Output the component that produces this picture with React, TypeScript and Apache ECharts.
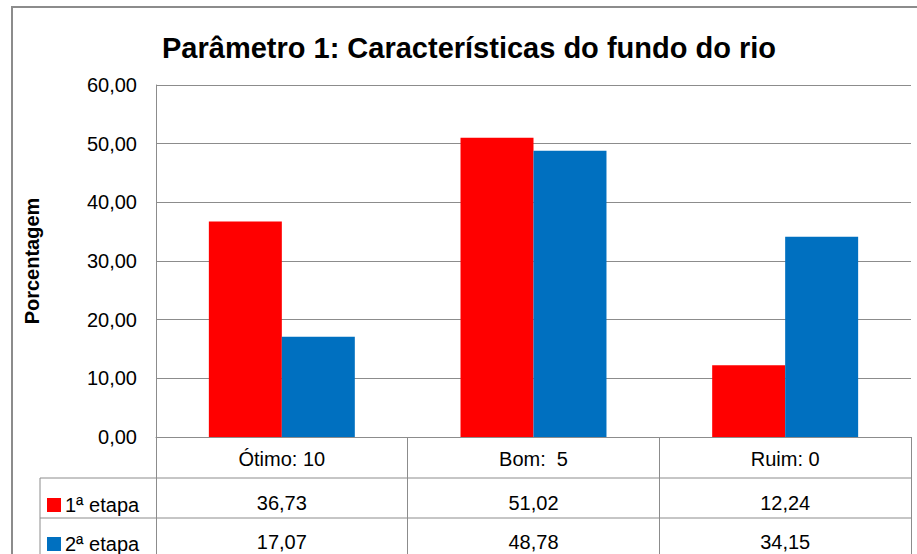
import React, { useEffect, useRef } from "react";
import * as echarts from "echarts";

const TITLE = "Parâmetro 1: Características do fundo do rio";
const Y_NAME = "Porcentagem";
const CATEGORIES = ["Ótimo: 10", "Bom:  5", "Ruim: 0"];
const SERIES_NAMES = ["1ª etapa", "2ª etapa"];
const ETAPA1 = [36.73, 51.02, 12.24];
const ETAPA2 = [17.07, 48.78, 34.15];
const COLORS = ["#FF0000", "#0070C0"];
const Y_MIN = 0;
const Y_MAX = 60;
const Y_INTERVAL = 10;

const fmt = (v: number) => v.toFixed(2).replace(".", ",");

export default function App() {
  const ref = useRef<HTMLDivElement>(null);
  useEffect(() => {
    if (!ref.current) return;
    const chart = echarts.init(ref.current, null, { renderer: "svg" });
    const gray = "#8c8c8c";
    const font = "Liberation Sans, Arial, sans-serif";
    const left = 156;
    const right = 6;
    const top = 85;
    const bottom = 117;
    const plotBottom = 554 - bottom;
    const valueAxis = (data: string[], offset: number) => ({
      type: "category",
      data,
      gridIndex: 0,
      position: "bottom",
      offset,
      axisLine: { show: false },
      axisTick: { show: false },
      axisLabel: { color: "#000", fontFamily: font, fontSize: 20, margin: 12 },
    });
    const legendItem = (name: string, topPx: number) => ({
      orient: "horizontal",
      left: 47,
      top: topPx,
      itemWidth: 14,
      itemHeight: 14,
      itemGap: 10,
      icon: "rect",
      data: [name],
      padding: 0,
      textStyle: { fontFamily: font, fontSize: 20, color: "#000", lineHeight: 14, padding: [0, 0, 0, -1] },
      selectedMode: false,
    });
    chart.setOption({
      animation: false,
      backgroundColor: "#fff",
      title: {
        text: TITLE,
        left: 464,
        textAlign: "center",
        top: 28,
        textStyle: { fontFamily: font, fontWeight: "bold", fontSize: 29, color: "#000" },
      },
      legend: [legendItem(SERIES_NAMES[0], 495), legendItem(SERIES_NAMES[1], 534)],
      grid: { left, right, top, bottom, containLabel: false },
      xAxis: [
        {
          type: "category",
          data: CATEGORIES,
          axisLine: { show: true, lineStyle: { color: gray, width: 1 } },
          axisTick: { show: true, length: 130, lineStyle: { color: gray, width: 1 } },
          axisLabel: { color: "#000", fontFamily: font, fontSize: 20, margin: 12 },
        },
        valueAxis(ETAPA1.map(fmt), 44),
        valueAxis(ETAPA2.map(fmt), 83),
      ],
      yAxis: {
        type: "value",
        min: Y_MIN,
        max: Y_MAX,
        interval: Y_INTERVAL,
        name: Y_NAME,
        nameLocation: "middle",
        nameRotate: 90,
        nameGap: 114,
        nameTextStyle: { fontFamily: font, fontWeight: "bold", fontSize: 20, color: "#000" },
        axisLine: { show: true, lineStyle: { color: gray, width: 1 } },
        axisTick: { show: false },
        axisLabel: { color: "#000", fontFamily: font, fontSize: 20, margin: 19, formatter: (v: number) => fmt(v) },
        splitLine: { show: true, lineStyle: { color: gray, width: 1 } },
      },
      series: [
        {
          name: SERIES_NAMES[0],
          type: "bar",
          data: ETAPA1,
          itemStyle: { color: COLORS[0] },
          barGap: "0%",
          barCategoryGap: "42%",
        },
        {
          name: SERIES_NAMES[1],
          type: "bar",
          data: ETAPA2,
          itemStyle: { color: COLORS[1] },
          barGap: "0%",
          barCategoryGap: "42%",
        },
      ],
      graphic: [
        {
          type: "rect",
          shape: { x: 12, y: 7, width: 1000, height: 1000 },
          style: { fill: "none", stroke: gray, lineWidth: 2 },
          silent: true,
        },
        {
          type: "line",
          shape: { x1: 40, y1: plotBottom + 41, x2: 917 - right, y2: plotBottom + 41 },
          style: { stroke: gray, lineWidth: 1 },
          silent: true,
        },
        {
          type: "line",
          shape: { x1: 40, y1: plotBottom + 81, x2: 917 - right, y2: plotBottom + 81 },
          style: { stroke: gray, lineWidth: 1 },
          silent: true,
        },
        {
          type: "line",
          shape: { x1: 40, y1: plotBottom + 41, x2: 40, y2: 560 },
          style: { stroke: gray, lineWidth: 1 },
          silent: true,
        },
      ],
    });
    return () => chart.dispose();
  }, []);
  return (
    <div
      ref={ref}
      style={{ position: "fixed", left: 0, top: 0, width: 917, height: 554 }}
    />
  );
}
